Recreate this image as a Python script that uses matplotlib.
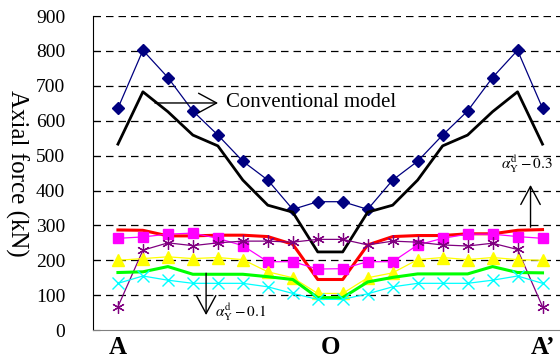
import matplotlib
matplotlib.use('Agg')
import matplotlib.pyplot as plt
import numpy as np

plt.rcParams['font.family'] = ['Liberation Serif', 'DejaVu Serif']
plt.rcParams['mathtext.fontset'] = 'stix'

# section positions along A-O-A'
positions = list(range(18))
tick_pos = [0, 8.5, 17]
tick_labels = ['A', 'O', 'A\u2019']

conv_marked = [636, 802, 724, 628, 559, 484, 430, 346, 368, 368, 346, 430, 484, 559, 628, 724, 802, 636]
conv_model = [533, 683, 626, 559, 528, 430, 358, 338, 224, 224, 338, 358, 430, 528, 559, 626, 683, 533]
red_line = [287, 286, 270, 270, 272, 272, 268, 246, 145, 145, 244, 268, 271, 271, 276, 276, 286, 288]
magenta_sq = [263, 267, 275, 278, 263, 242, 196, 196, 175, 176, 196, 196, 244, 263, 275, 275, 268, 263]
purple_star = [67, 229, 250, 242, 250, 255, 255, 252, 260, 260, 244, 255, 252, 244, 241, 249, 231, 67]
yellow_tri = [200, 205, 210, 205, 208, 202, 167, 150, 105, 105, 150, 164, 202, 208, 202, 208, 202, 200]
green_line = [165, 167, 182, 160, 160, 160, 153, 145, 93, 93, 138, 151, 161, 161, 161, 182, 165, 164]
cyan_x = [134, 155, 143, 134, 134, 134, 124, 105, 88, 88, 104, 124, 134, 134, 134, 143, 155, 134]


def main():
    fig = plt.figure(figsize=(5.6, 3.58), dpi=100)
    ax = fig.add_axes([0.166, 0.078, 0.834, 0.877])

    for v in range(100, 901, 100):
        ax.axhline(v, color='black', lw=0.9, dashes=(6, 4), zorder=0)

    ax.plot(positions, conv_marked, color='#000080', lw=0.9, marker='D', ms=6, zorder=3)
    ax.plot(positions, conv_model, color='black', lw=2.0, zorder=3)
    ax.plot(positions, red_line, color='#FF0000', lw=2.2, zorder=3)
    ax.plot(positions, magenta_sq, color='#FF00FF', lw=0.9, marker='s', ms=7, zorder=3)
    ax.plot(positions, purple_star, color='#800080', lw=0.9, marker=(6, 2, 0), ms=9,
            mew=0.9, zorder=3)
    ax.plot(positions, yellow_tri, color='#FFFF00', lw=0.9, marker='^', ms=8, zorder=3)
    ax.plot(positions, green_line, color='#00FF00', lw=2.2, zorder=3)
    ax.plot(positions, cyan_x, color='#00FFFF', lw=0.9, marker='x', ms=8, mew=1.0, zorder=3)

    arrow = dict(arrowstyle='->,head_length=1.3,head_width=0.7', color='black', lw=1.0,
                 shrinkA=0, shrinkB=0, mutation_scale=10)
    ax.annotate('', xy=(4.01, 651), xytext=(1.48, 651), arrowprops=arrow)
    ax.text(4.33, 651, 'Conventional model', fontsize=15, va='center', ha='left')

    ax.annotate('', xy=(16.52, 416), xytext=(16.52, 295), arrowprops=arrow)
    ax.text(16.36, 476, r'$\alpha_{\rm Y}^{\rm d}-0.3$', fontsize=11, va='center', ha='center')

    ax.annotate('', xy=(3.53, 43), xytext=(3.53, 163), arrowprops=arrow)
    ax.text(3.89, 52, r'$\alpha_{\rm Y}^{\rm d}-0.1$', fontsize=11, va='center', ha='left')

    ax.set_xlim(-1.0, 17.7)
    ax.set_ylim(0, 900)
    ax.set_yticks(range(0, 901, 100))
    ax.set_xticks(tick_pos)
    ax.set_xticklabels(tick_labels, fontsize=18, fontweight='bold')
    ax.tick_params(axis='x', length=0, pad=4)
    ax.tick_params(axis='y', direction='in', length=5, labelsize=14, pad=20)
    ax.set_ylabel('Axial force (kN)', fontsize=18, rotation=-90, labelpad=22, va='bottom')

    ax.spines['top'].set_visible(False)
    ax.spines['right'].set_visible(False)
    ax.spines['bottom'].set_color('#808080')

    plt.savefig('out.png', dpi=100)


if __name__ == '__main__':
    main()
